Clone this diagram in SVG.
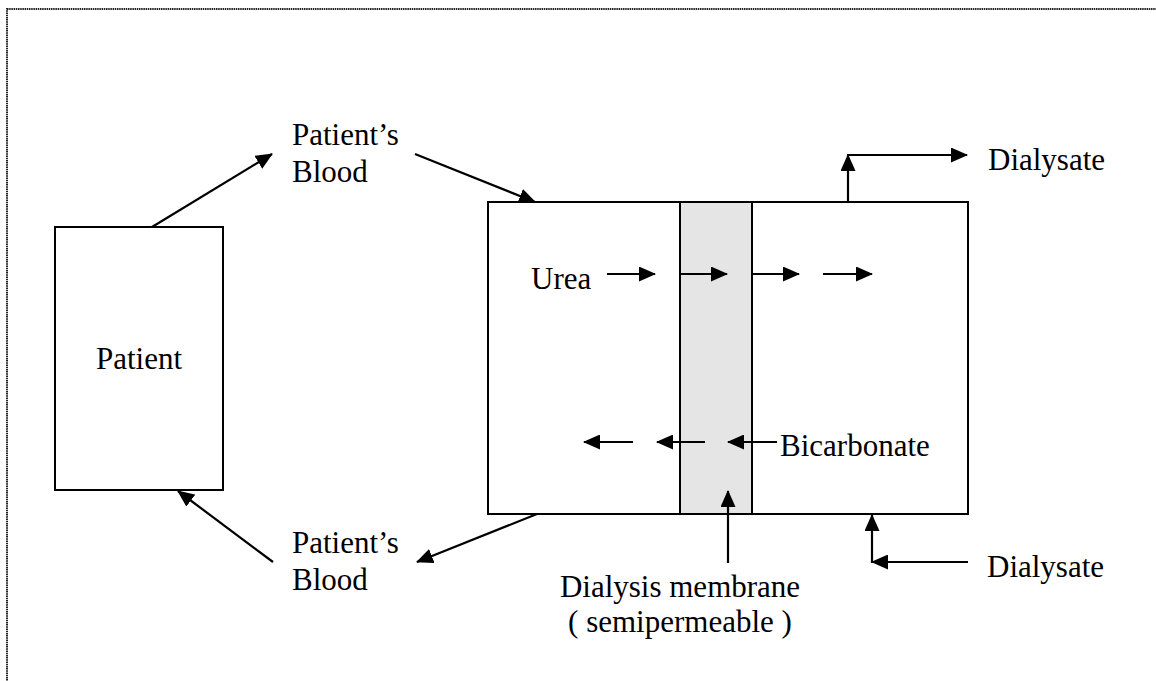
<svg xmlns="http://www.w3.org/2000/svg" width="1156" height="681" viewBox="0 0 1156 681">
<style>
.box{fill:#fff;stroke:#000;stroke-width:2}
.mem{fill:#e5e5e5;stroke:#000;stroke-width:2}
.ln{fill:none;stroke:#000;stroke-width:2.2;marker-end:url(#ah)}
.t{font-family:"Liberation Serif","Times New Roman",serif;font-size:31px;fill:#000}
</style>
<defs>
<marker id="ah" markerUnits="userSpaceOnUse" markerWidth="17" markerHeight="15" refX="16" refY="7.5" orient="auto">
<path d="M0,0 L17,7.5 L0,15 z" fill="#000"/>
</marker>
</defs>
<rect x="7" y="9" width="1200" height="700" fill="#fff" stroke="#222" stroke-width="2" stroke-dasharray="1.5 0.7"/>
<g id="patient">
<rect class="box" x="55" y="227" width="168" height="263"/>
<text class="t" x="139" y="369" text-anchor="middle">Patient</text>
</g>
<g id="dialyzer">
<rect class="box" x="488" y="202" width="480" height="312"/>
<rect class="mem" x="680" y="202" width="72" height="312"/>
</g>
<g id="labels">
<text class="t" x="292" y="145">Patient’s</text>
<text class="t" x="292" y="182">Blood</text>
<text class="t" x="292" y="553">Patient’s</text>
<text class="t" x="292" y="590">Blood</text>
<text class="t" x="988" y="170">Dialysate</text>
<text class="t" x="987" y="577">Dialysate</text>
<text class="t" x="531" y="289">Urea</text>
<text class="t" x="780" y="456">Bicarbonate</text>
<text class="t" x="680" y="597" text-anchor="middle">Dialysis membrane</text>
<text class="t" x="680" y="632" text-anchor="middle">( semipermeable )</text>
</g>
<g id="connectors">
<path class="ln" d="M152,227 L272,154"/>
<path class="ln" d="M415,154 L535,202"/>
<path class="ln" d="M848,202 L848,155"/>
<path class="ln" d="M847,155 L967,155"/>
<path class="ln" d="M607,274 L655,274"/>
<path class="ln" d="M679,274 L727,274"/>
<path class="ln" d="M751,274 L799,274"/>
<path class="ln" d="M823,274 L872,274"/>
<path class="ln" d="M633,442 L584,442"/>
<path class="ln" d="M705,442 L657,442"/>
<path class="ln" d="M777,442 L728,442"/>
<path class="ln" d="M537,514 L417,562"/>
<path class="ln" d="M273,562 L178,491"/>
<path class="ln" d="M728,563 L728,491"/>
<path class="ln" d="M968,562 L872,562"/>
<path class="ln" d="M872,563 L872,515"/>
</g>
</svg>
